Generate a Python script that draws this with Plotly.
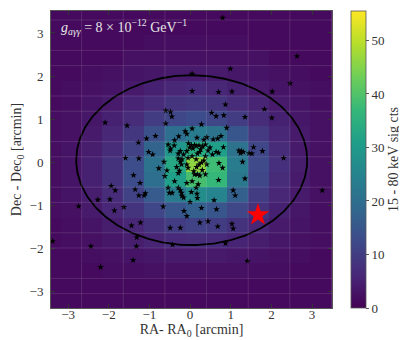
import numpy as np
import plotly.graph_objects as go

# heatmap cell centres [arcmin]
ra_cells = [-3.435, -2.923, -2.411, -1.899, -1.387, -0.875, -0.363, 0.149,
            0.661, 1.173, 1.685, 2.197, 2.709, 3.221, 3.733]
dec_cells = [-3.223, -2.870, -2.518, -2.165, -1.812, -1.460, -1.107, -0.754,
             -0.401, -0.049, 0.304, 0.657, 1.009, 1.362, 1.715, 2.067,
             2.420, 2.773, 3.125, 3.478]

# 15 - 80 keV signal counts, rows from bottom (dec_cells[0]) to top
sig_cts = [
    [1.5, 1.5, 1.5, 1.5, 1.5, 1.5, 1.5, 1.5, 1.5, 1.5, 1.5, 1.5, 1.5, 1.5, 1.5],
    [1.5, 1.5, 1.5, 1.5, 1.5, 1.5, 1.5, 1.5, 1.5, 1.5, 1.5, 1.5, 1.5, 1.5, 1.5],
    [1.5, 1.5, 1.5, 2, 2, 2.5, 2.5, 2.5, 2.5, 2.5, 2, 2, 1.5, 1.5, 1.5],
    [1.5, 1.5, 2, 2.5, 3, 3.5, 4, 4, 4, 3.5, 3, 2.5, 2, 1.5, 1.5],
    [1.5, 2, 2.5, 3.5, 4.5, 5.5, 6.5, 7, 6.5, 5.5, 4.5, 3.5, 2.5, 2, 1.5],
    [1.5, 2, 3, 4.5, 6, 8, 10, 11, 10, 8, 6, 4, 3, 2, 1.5],
    [2, 2.5, 4, 6, 8.5, 12, 15, 17, 15, 12, 8, 5, 3.5, 2, 2],
    [2, 3, 4.5, 7, 11, 16, 23, 27, 25, 17, 10, 6, 4, 2.5, 2],
    [2, 3, 5, 8, 13, 20, 31, 39, 37, 22, 12, 7, 4, 2.5, 2],
    [2, 3, 5, 8, 13, 21, 33, 46, 38, 23, 12.5, 7.5, 4.5, 2.5, 2],
    [2, 3, 4.5, 7, 11, 18, 29, 34, 31, 21, 12, 7, 4, 2.5, 2],
    [2, 2.5, 4, 6, 9, 14, 20, 23, 21, 15, 9.5, 6, 4, 2.5, 2],
    [2, 2.5, 3.5, 5, 7, 10, 12, 13, 12, 10, 7, 5, 3.5, 2.5, 2],
    [1.5, 2, 3, 4, 5.5, 7, 8.5, 9, 8.5, 7, 5.5, 4, 3, 2, 1.5],
    [1.5, 2, 2.5, 3, 4, 5, 6, 6.5, 6, 5, 4, 3, 2.5, 2, 1.5],
    [1.5, 1.5, 2, 2.5, 3, 3.5, 4, 4, 4, 3.5, 3, 2.5, 2, 1.5, 1.5],
    [1.5, 1.5, 1.5, 1.5, 2.5, 2.5, 2.5, 2.5, 2.5, 2.5, 2.5, 1.5, 1.5, 1.5, 1.5],
    [1.5, 1.5, 1.5, 1.5, 1.5, 2, 2, 2, 2, 2, 1.5, 1.5, 1.5, 1.5, 1.5],
    [1.5, 1.5, 1.5, 1.5, 1.5, 1.5, 1.5, 1.5, 1.5, 1.5, 1.5, 1.5, 1.5, 1.5, 1.5],
    [1.5, 1.5, 1.5, 1.5, 1.5, 1.5, 1.5, 1.5, 1.5, 1.5, 1.5, 1.5, 1.5, 1.5, 1.5],
]

# simulated photon positions [arcmin]
evt_ra = [0.80, 2.63, 0.99, 0.05, 2.46, 2.02, 1.03, 0.70, 0.05, 0.87, 1.83, 1.35,
          2.01, 0.53, 0.64, 0.83, -0.60, -0.48, -0.45, -0.60, -2.09, -1.55, 0.05,
          0.28, 0.90, -0.12, -0.08, -0.28, -0.85, -1.07, -1.27, -0.38, -0.54, 0.76,
          0.68, 0.41, 0.17, 0.34, -0.04, 0.11, -0.01, 0.15, 0.22, 0.31, 0.26, 0.07,
          0.18, 0.23, -0.08, -0.16, -0.05, -0.24, -0.39, -0.29, -0.48, 0.49, 0.64,
          0.70, 0.55, 0.44, 0.82, 1.20, 1.24, 1.31, 1.45, 1.52, 1.56, 1.78, 2.30,
          -1.02, -0.92, -1.26, -1.59, -0.64, -0.29, -0.24, -0.20, 0.34, 0.28, 0.22,
          0.16, 0.30, 0.41, 0.71, 1.29, -0.08, -0.05, -0.21, -0.77, -0.57, -0.26,
          -0.33, -0.29, 0.11, 0.18, 0.24, 0.05, 0.70, 1.35, -1.39, -0.38, -1.23,
          -1.94, -1.84, -1.35, -1.26, -1.10, -1.13, -0.54, -0.44, -0.51, -0.29,
          -0.24, -0.21, -0.20, -0.16, 0.03, 0.17, 0.18, 0.00, 0.59, 1.06, 1.11,
          -2.27, -1.97, -2.74, -1.86, -1.63, -0.66, -0.15, -0.08, 0.28, 0.65, 0.44,
          0.24, 1.03, 0.68, 1.06, -0.49, -0.24, -1.22, -1.44, -1.31, -3.38, -2.44,
          -1.32, -0.43, 0.87, -2.20, -1.40, 1.41, 3.25, 0.03, 0.38, 0.57, 1.26,
          0.15, 0.05, 0.38, 0.09, 0.38, -0.08, 0.15, 0.20, -0.49, -0.62, 0.80]
evt_dec = [3.35, 2.46, 2.17, 2.05, 1.83, 1.64, 1.64, 1.63, 1.65, 1.34, 1.23, 1.05,
           1.03, 1.15, 1.07, 1.09, 1.20, 1.17, 1.06, 0.90, 0.92, 0.85, 0.78,
           0.88, 0.80, 0.72, 0.66, 0.60, 0.61, 0.55, 0.46, 0.51, 0.41, 0.61,
           0.55, 0.58, 0.57, 0.52, 0.44, 0.40, 0.34, 0.38, 0.39, 0.37, 0.30, 0.32,
           0.20, 0.24, 0.26, 0.18, 0.10, 0.26, 0.39, 0.20, 0.32, 0.34, 0.24,
           0.22, 0.18, 0.27, 0.35, 0.27, 0.21, 0.24, 0.21, 0.20, 0.35, 0.26, 0.10,
           0.24, 0.18, 0.09, 0.10, 0.01, 0.09, 0.01, 0.07, 0.04, -0.01, -0.05,
           -0.11, -0.18, -0.05, -0.02, 0.01, -0.05, -0.13, -0.05, -0.14, -0.19, -0.20,
           -0.11, -0.25, -0.28, -0.28, -0.31, -0.44, -0.41, -0.38, -0.30, -0.44, -0.48,
           -0.55, -0.65, -0.63, -0.77, -0.72, -0.77, -0.59, -0.71, -0.71, -0.59,
           -0.65, -0.71, -0.78, -0.82, -0.69, -0.73, -0.83, -0.92, -0.88, -0.65, -0.77,
           -0.87, -0.86, -1.02, -1.12, -1.04, -1.03, -1.13, -1.25, -1.06, -1.09, -1.37,
           -1.40, -1.43, -1.49, -1.54, -1.52, -1.52, -1.40, -1.47, -1.74, -1.83, -1.95,
           -1.95, -1.91, -1.88, -2.43, -2.27, -2.29, -0.65, 0.40, 0.41, 0.53, 0.26,
           0.07, 0.14, 0.14, -0.21, -0.28, -0.48, -0.59, -0.51, 0.27, -0.32, -0.13]

# the offset candidate position
cand_ra = [1.67]
cand_dec = [-1.22]

# extraction region (ellipse) centre and semi-axes [arcmin]
reg_ra0, reg_dec0 = 0.04, 0.05
reg_a, reg_b = 2.84, 1.97

FONT = "Liberation Serif, DejaVu Serif, serif"
TXT = "#333333"
x_range = [-3.42, 3.49]
y_range = [-3.38, 3.51]

fig = go.Figure()
fig.add_trace(go.Heatmap(x=ra_cells, y=dec_cells, z=sig_cts, colorscale="Viridis",
                         zmin=0, zmax=55.5, hoverinfo="skip",
                         colorbar=dict(thickness=15, len=1, lenmode="fraction", y=0.5,
                                       yanchor="middle", ypad=0, x=1.033, xanchor="left",
                                       outlinecolor="#555555", outlinewidth=0.8,
                                       tickvals=[0, 10, 20, 30, 40, 50], ticks="outside",
                                       ticklen=3, tickcolor="#555555",
                                       tickfont=dict(family=FONT, size=13, color=TXT),
                                       title=dict(text="15 - 80 keV sig cts", side="right",
                                                  font=dict(family=FONT, size=14, color=TXT)))))

t = np.linspace(0, 2 * np.pi, 300)
fig.add_trace(go.Scatter(x=reg_ra0 + reg_a * np.cos(t), y=reg_dec0 + reg_b * np.sin(t),
                         mode="lines", line=dict(color="black", width=1.8),
                         hoverinfo="skip", showlegend=False))
fig.add_trace(go.Scatter(x=evt_ra, y=evt_dec, mode="markers",
                         marker=dict(symbol="star", size=5, color="black", line=dict(width=0)),
                         showlegend=False))
fig.add_trace(go.Scatter(x=cand_ra, y=cand_dec, mode="markers",
                         marker=dict(symbol="star", size=17, color="red", line=dict(width=0)),
                         showlegend=False))

# faint pixel-boundary lines seen over the image
col_w = ra_cells[1] - ra_cells[0]
row_h = dec_cells[1] - dec_cells[0]
shapes = []
for i in range(1, len(ra_cells), 2):
    xe = ra_cells[i] + col_w / 2
    if x_range[0] < xe < x_range[1]:
        shapes.append(dict(type="line", xref="x", yref="paper", x0=xe, x1=xe, y0=0, y1=1,
                           line=dict(color="rgba(255,255,255,0.12)", width=1), layer="above"))
for j in range(len(dec_cells)):
    if j % 3 == 2:
        continue
    ye = dec_cells[j] + row_h / 2
    if y_range[0] < ye < y_range[1]:
        shapes.append(dict(type="line", xref="paper", yref="y", x0=0, x1=1, y0=ye, y1=ye,
                           line=dict(color="rgba(255,255,255,0.12)", width=1), layer="above"))

fig.update_layout(width=407, height=340, margin=dict(l=43, r=63, t=3, b=40),
                  paper_bgcolor="white", plot_bgcolor="#440154", shapes=shapes,
                  font=dict(family=FONT, size=13, color=TXT))
fig.add_annotation(xref="paper", yref="paper", x=0.03, y=0.985, xanchor="left", yanchor="top",
                   showarrow=False,
                   text="<i>g</i><sub><i>aγγ</i></sub> = 8 × 10<sup>−12</sup> GeV<sup>−1</sup>",
                   font=dict(family=FONT, size=14, color="#e6e6e6"))

axis_style = dict(showgrid=False, zeroline=False, showline=True, linecolor="#555555",
                  linewidth=1, mirror="ticks", ticks="inside", ticklen=4, tickcolor="#333333",
                  tickfont=dict(family=FONT, size=13, color=TXT))
fig.update_xaxes(range=x_range, tickvals=[-3, -2, -1, 0, 1, 2, 3], ticklabelstandoff=-6,
                 title=dict(text="RA- RA<sub>0</sub> [arcmin]", standoff=0,
                            font=dict(family=FONT, size=14, color=TXT)), **axis_style)
fig.update_yaxes(range=y_range, tickvals=[-3, -2, -1, 0, 1, 2, 3], ticklabelstandoff=4,
                 title=dict(text="Dec - Dec<sub>0</sub> [arcmin]", standoff=4,
                            font=dict(family=FONT, size=14, color=TXT)), **axis_style)

fig.write_html("out.html")
